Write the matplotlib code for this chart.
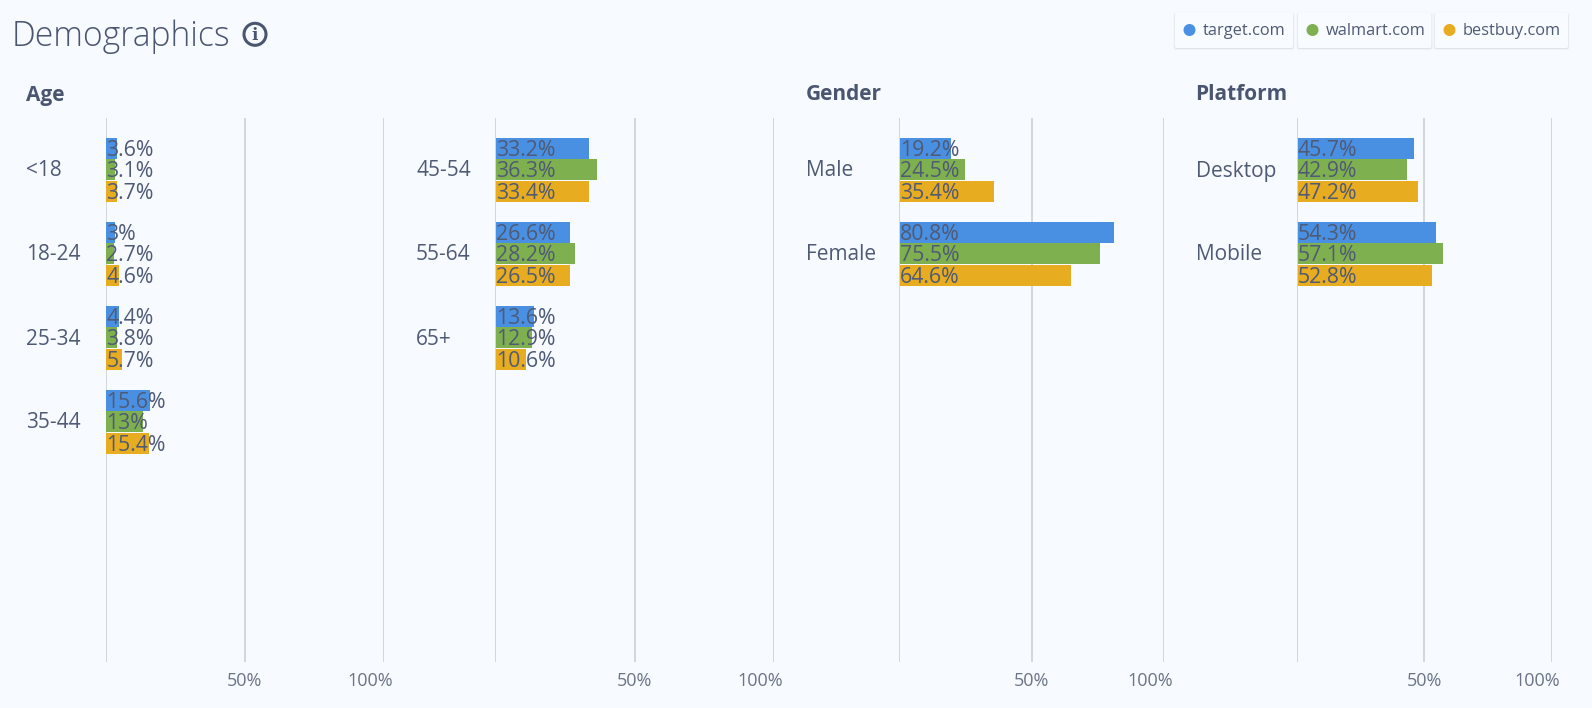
import numpy as np
import matplotlib
matplotlib.use("Agg")
import matplotlib.pyplot as plt
from matplotlib.patches import FancyBboxPatch, Circle
from matplotlib.transforms import ScaledTranslation

plt.rcParams["font.family"] = ["Open Sans", "DejaVu Sans"]

W, H = 1592, 708
BG = "#f7faff"; INK = "#4f5a75"; GRID = "#c9cdd0"
BLUE = "#4a90e2"; GREEN = "#7fb04f"; ORANGE = "#e8ac20"
BAR_GAP = 0.35  # bars start just right of the zero line

sites = ["target.com", "walmart.com", "bestbuy.com"]
colors = [BLUE, GREEN, ORANGE]

age_a_labels = ["<18", "18-24", "25-34", "35-44"]
age_a_target = [3.6, 3, 4.4, 15.6]
age_a_walmart = [3.1, 2.7, 3.8, 13]
age_a_bestbuy = [3.7, 4.6, 5.7, 15.4]

age_b_labels = ["45-54", "55-64", "65+"]
age_b_target = [33.2, 26.6, 13.6]
age_b_walmart = [36.3, 28.2, 12.9]
age_b_bestbuy = [33.4, 26.5, 10.6]

gender_labels = ["Male", "Female"]
gender_target = [19.2, 80.8]
gender_walmart = [24.5, 75.5]
gender_bestbuy = [35.4, 64.6]

platform_labels = ["Desktop", "Mobile"]
platform_target = [45.7, 54.3]
platform_walmart = [42.9, 57.1]
platform_bestbuy = [47.2, 52.8]

fig = plt.figure(figsize=(W/100, H/100), dpi=100, facecolor=BG)

def panel(x0, x100, labels, target, walmart, bestbuy, label_x):
    # axes box runs from the top to the bottom of the grid lines
    top, bot = 118, 662
    ax = fig.add_axes([x0/W, 1-bot/H, (x100-x0)/W, (bot-top)/H])
    ax.patch.set_alpha(0)
    ax.set_xlim(0, 100)
    ax.set_ylim(bot, top)  # y in picture pixels
    for s in ax.spines.values():
        s.set_visible(False)
    ax.set_xticks([0, 50, 100])
    ax.set_xticklabels(["", "50%", "100%"], fontsize=13, color="#6b7488")
    ax.tick_params(axis="x", length=0, pad=7)
    # the 100% label sits left of its line in the original
    lab100 = ax.get_xticklabels()[2]
    lab100.set_transform(lab100.get_transform() + ScaledTranslation(-14/100, 0, fig.dpi_scale_trans))
    ax.set_yticks([])
    for v in [0, 50, 100]:
        ax.axvline(v, color=GRID, lw=1.1, zorder=1)
    for i, lab in enumerate(labels):
        yc = 169.5 + 84*i
        for j, vals in enumerate([target, walmart, bestbuy]):
            y = yc + [-21, 0, 22][j]
            ax.barh(y, vals[i], left=BAR_GAP, height=21, color=colors[j], zorder=2)
            ax.text(BAR_GAP, y + 2, f"{vals[i]:g}%", fontsize=15.3, color=INK,
                    va="center", ha="left", zorder=4)
        fig.text(label_x/W, 1-(yc+1.5)/H, lab, fontsize=15, color=INK,
                 va="center", ha="left")

panel(105.5, 384, age_a_labels, age_a_target, age_a_walmart, age_a_bestbuy, 26)
panel(495, 774, age_b_labels, age_b_target, age_b_walmart, age_b_bestbuy, 416)
panel(899, 1164, gender_labels, gender_target, gender_walmart, gender_bestbuy, 806)
panel(1297, 1551.5, platform_labels, platform_target, platform_walmart, platform_bestbuy, 1196)

for name, x in [("Age", 26), ("Gender", 806), ("Platform", 1195)]:
    fig.text(x/W, 1-95/H, name, fontsize=15, fontweight="bold",
             color="#4a5570", va="center", ha="left")

fig.text(12/W, 1-37/H, "Demographics", fontsize=24.2, color="#4a5570",
         va="center", ha="left", fontweight="light")

# overlay in pixel coordinates for the info icon and legend chips
ov = fig.add_axes([0, 0, 1, 1], zorder=5)
ov.set_xlim(0, W); ov.set_ylim(H, 0); ov.axis("off"); ov.patch.set_alpha(0)
ov.add_patch(Circle((255, 34.3), 11, fc="none", ec="#4a5570", lw=2.2))
ov.text(255, 35, "i", fontsize=12, fontweight="bold", color="#4a5570",
        ha="center", va="center", family="DejaVu Serif")

chips = [(1175, 1293), (1298, 1431.5), (1435, 1568)]
for (a, b), site, c in zip(chips, sites, colors):
    # soft shadow built up from a few translucent layers, heavier at the bottom
    for grow, alpha in [(1.6, 0.025), (0.9, 0.05), (0.3, 0.09)]:
        ov.add_patch(FancyBboxPatch((a-grow, 14-grow), b-a+2*grow, 34.5+2*grow,
                                    boxstyle="round,pad=0,rounding_size=2",
                                    fc="#5a6070", alpha=alpha, ec="none", zorder=1))
    ov.add_patch(FancyBboxPatch((a, 13), b-a, 35, boxstyle="round,pad=0,rounding_size=1.5",
                                fc="#f8fbff", ec="none", zorder=2))
    ov.add_patch(Circle((a+14.5, 30), 6, fc=c, ec="none", zorder=3))
    ov.text(a+28, 31, site, fontsize=11.8, color=INK, va="center", ha="left", zorder=3)

fig.savefig("out.png", dpi=100, facecolor=BG)
